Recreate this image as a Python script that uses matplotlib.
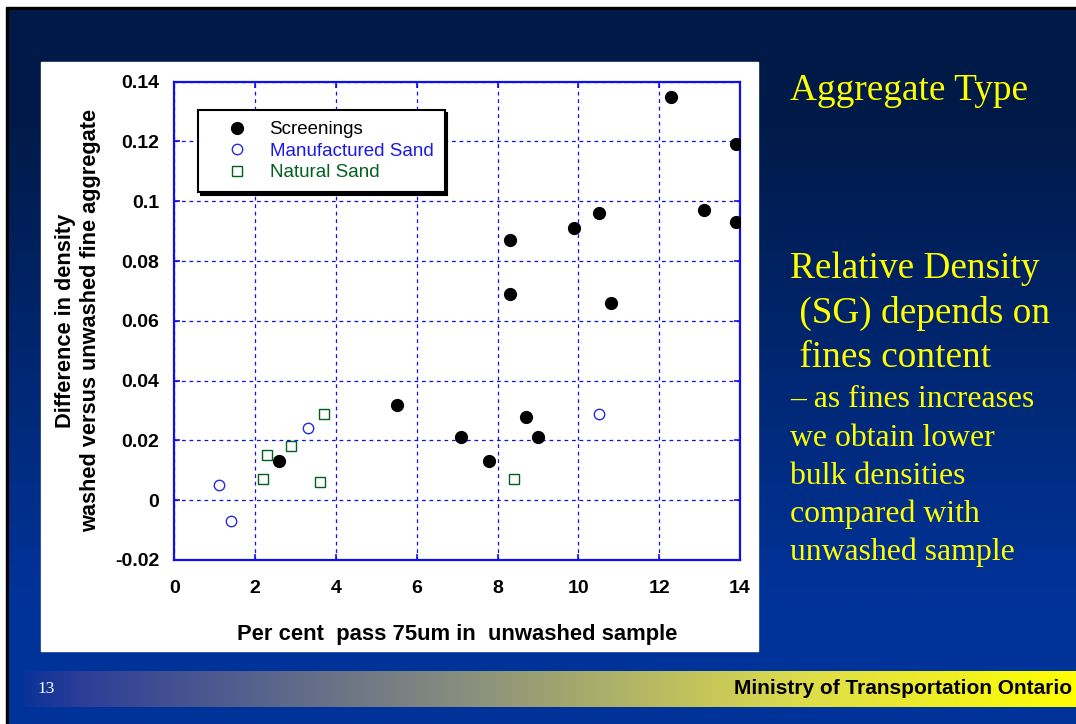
import numpy as np
import matplotlib
matplotlib.use('Agg')
import matplotlib.pyplot as plt
from matplotlib.patches import Rectangle
from matplotlib.colors import to_rgb

# ---------------- data ----------------
screen_x = [2.6, 5.5, 7.1, 7.8, 8.3, 8.3, 8.7, 9.0, 9.9, 10.5, 10.8, 12.3, 13.1, 13.9, 13.9]
screen_y = [0.013, 0.032, 0.021, 0.013, 0.087, 0.069, 0.028, 0.021, 0.091, 0.096, 0.066, 0.135, 0.097, 0.119, 0.093]
manu_x = [1.1, 1.4, 3.3, 10.5]
manu_y = [0.005, -0.007, 0.024, 0.029]
nat_x = [2.2, 2.3, 2.9, 3.6, 3.7, 8.4]
nat_y = [0.007, 0.015, 0.018, 0.006, 0.029, 0.007]
series_labels = ['Screenings', 'Manufactured Sand', 'Natural Sand']
x_ticks = [0, 2, 4, 6, 8, 10, 12, 14]
y_ticks = [-0.02, 0, 0.02, 0.04, 0.06, 0.08, 0.1, 0.12, 0.14]
y_tick_labels = ['-0.02', '0', '0.02', '0.04', '0.06', '0.08', '0.1', '0.12', '0.14']
x_label = 'Per cent  pass 75um in  unwashed sample'
y_label = 'Difference in density\nwashed versus unwashed fine aggregate'

W, H = 1076, 724
SANS = ['Liberation Sans', 'DejaVu Sans']
SERIF = ['Liberation Serif', 'DejaVu Serif']
YEL = '#ffff00'
BLUE = '#1010ee'

fig = plt.figure(figsize=(W / 100, H / 100), dpi=100)
fig.patch.set_facecolor('white')

# ---------------- slide background ----------------
bg = fig.add_axes([0, 0, 1, 1])
bg.axis('off')
bg.add_patch(Rectangle((6, 7), W - 6, H - 7, color='black', zorder=0))

# vertical gradient navy -> blue
n = 400
ys = np.linspace(10, H, n)
c_top = np.array(to_rgb('#001a48'))
c_bot = np.array(to_rgb('#003399'))
t = np.clip((ys - 120) / (600 - 120), 0, 1)[:, None]
grad = c_top * (1 - t) + c_bot * t
bg.imshow(grad[:, None, :], extent=[9, W, H, 10], aspect='auto', zorder=1,
          interpolation='bilinear')

# white chart panel
bg.add_patch(Rectangle((41, 62), 717, 589, color='white', zorder=2))

# bottom bar gradient
xs = np.linspace(24, W, 600)
stops_x = [24, 80, 450, 800, W]
stops_c = [to_rgb('#0a3399'), to_rgb('#2d3d98'), to_rgb('#858b80'), to_rgb('#dcdc4c'), to_rgb('#ffff00')]
bar = np.stack([np.interp(xs, stops_x, [c[i] for c in stops_c]) for i in range(3)], axis=-1)
bg.imshow(bar[None, :, :], extent=[24, W, 707, 671], aspect='auto', zorder=2,
          interpolation='bilinear')

bg.set_xlim(0, W)
bg.set_ylim(H, 0)

bg.text(37, 689, '13', color='white', fontsize=12.5, family=SERIF, va='center', ha='left', zorder=3)
bg.text(1072, 689, 'Ministry of Transportation Ontario', color='black', fontsize=15,
        fontweight='bold', family=SANS, va='center', ha='right', zorder=3)

# right-hand text
big = 26.8
small = 22.9
bg.text(790, 100, 'Aggregate Type', color=YEL, fontsize=big, family=SERIF, va='baseline', zorder=3)
bg.text(790, 278, 'Relative Density', color=YEL, fontsize=big, family=SERIF, va='baseline', zorder=3)
bg.text(790, 323, ' (SG) depends on', color=YEL, fontsize=big, family=SERIF, va='baseline', zorder=3)
bg.text(790, 367, ' fines content', color=YEL, fontsize=big, family=SERIF, va='baseline', zorder=3)
small_lines = ['\u2013 as fines increases', 'we obtain lower', 'bulk densities',
               'compared with', 'unwashed sample']
small_y = [407, 446, 484, 522, 560]
for s, yy in zip(small_lines, small_y):
    bg.text(790, yy, s, color=YEL, fontsize=small, family=SERIF, va='baseline', zorder=3)

# ---------------- chart ----------------
ax = fig.add_axes([174.3 / W, 1 - 560 / H, 565.7 / W, 478.3 / H])
ax.set_facecolor('white')
ax.set_xlim(0, 14)
ax.set_ylim(-0.02, 0.14)
ax.set_xticks(x_ticks)
ax.set_xticklabels([str(v) for v in x_ticks])
ax.set_yticks(y_ticks)
ax.set_yticklabels(y_tick_labels)
ax.grid(True, color=BLUE, linestyle=(0, (3, 3)), linewidth=0.9)
ax.set_axisbelow(True)
for sp in ax.spines.values():
    sp.set_color(BLUE)
    sp.set_linewidth(1.6)
ax.tick_params(axis='both', direction='in', color=BLUE, length=4, width=1.2,
               top=True, right=True, labelsize=14)
ax.tick_params(axis='x', pad=14.5)
ax.tick_params(axis='y', pad=11)
for lab in ax.get_xticklabels() + ax.get_yticklabels():
    lab.set_fontweight('bold')
    lab.set_family(SANS)

ax.plot(screen_x, screen_y, linestyle='none', marker='o', markersize=8.5,
        markerfacecolor='black', markeredgecolor='black', label=series_labels[0], zorder=3)
ax.plot(manu_x, manu_y, linestyle='none', marker='o', markersize=7.5,
        markerfacecolor='white', markeredgecolor='#2a2ae6', markeredgewidth=1.0,
        label=series_labels[1], zorder=3)
ax.plot(nat_x, nat_y, linestyle='none', marker='s', markersize=7,
        markerfacecolor='white', markeredgecolor='#006020', markeredgewidth=1.0,
        label=series_labels[2], zorder=3)

ax.set_xlabel(x_label, fontsize=15.8, fontweight='bold', family=SANS, labelpad=19)
ax.set_ylabel(y_label, fontsize=15.7, fontweight='bold', family=SANS, labelpad=10,
              linespacing=1.25)

leg = ax.legend(loc='upper left', bbox_to_anchor=(0.0424, 0.941), borderaxespad=0,
                fancybox=False, shadow={'color': 'black', 'alpha': 1.0},
                edgecolor='black', framealpha=1, prop={'family': SANS, 'size': 13.5},
                handlelength=2.9, handletextpad=0.3, labelspacing=0.23,
                borderpad=0.6)
leg.get_frame().set_linewidth(1.5)
for txt, col in zip(leg.get_texts(), ['black', '#1a1ae6', '#006020']):
    txt.set_color(col)

fig.savefig('out.png', dpi=100)
